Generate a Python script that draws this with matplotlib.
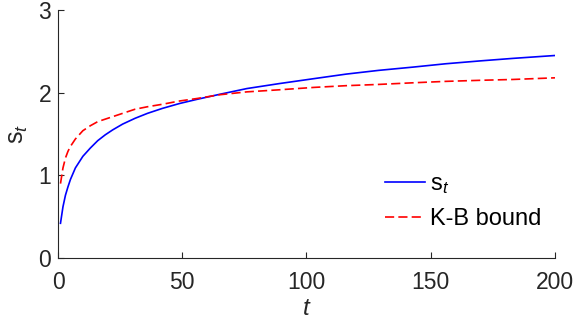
import matplotlib
matplotlib.use("Agg")
import matplotlib.pyplot as plt

# values
t = [1, 2, 3, 4, 5, 7, 10, 13, 16, 19, 22, 26, 31, 36, 42, 49, 56, 65, 76, 89,
     103, 116, 129, 143, 156, 170, 183, 200]
s_t = [0.42, 0.62, 0.76, 0.86, 0.95, 1.09, 1.23, 1.33, 1.42, 1.49, 1.55, 1.62, 1.69,
       1.75, 1.81, 1.87, 1.92, 1.98, 2.05, 2.11, 2.17, 2.225, 2.27, 2.31, 2.35, 2.385,
       2.415, 2.45]
kb_bound = [0.90, 1.09, 1.21, 1.29, 1.35, 1.44, 1.54, 1.60, 1.65, 1.68, 1.71, 1.75, 1.80,
            1.83, 1.86, 1.90, 1.93, 1.975, 2.01, 2.035, 2.064, 2.085, 2.10, 2.12, 2.137,
            2.15, 2.16, 2.18]

plt.rcParams["font.family"] = ["Liberation Sans", "DejaVu Sans"]
plt.rcParams["mathtext.fontset"] = "custom"
plt.rcParams["mathtext.rm"] = "Liberation Sans"
plt.rcParams["mathtext.it"] = "Liberation Sans:italic"

DARK = "#262626"

fig = plt.figure(figsize=(5.76, 3.24), dpi=100)
ax = fig.add_axes([0.1007, 0.2037, 0.8628, 0.7653])

ax.plot(t, s_t, color="#0000ff", linewidth=1.2, label=r"$\mathrm{s}_{t}$")
ax.plot(t, kb_bound, color="#ff0000", linewidth=1.2, linestyle=(0, (5.5, 2.5)),
        label="K-B bound")

ax.set_xlim(0, 200)
ax.set_ylim(0, 3)
ax.set_xticks([0, 50, 100, 150, 200])
ax.set_yticks([0, 1, 2, 3])

for side in ("top", "right"):
    ax.spines[side].set_visible(False)
for side in ("left", "bottom"):
    ax.spines[side].set_color(DARK)
    ax.spines[side].set_linewidth(0.8)

ax.tick_params(direction="in", length=4, width=0.8, colors=DARK, labelsize=16.5, pad=5)
ax.tick_params(axis="x", pad=9)

ax.set_xlabel(r"$t$", fontsize=17.5, color=DARK, labelpad=3)
ax.set_ylabel(r"$\mathrm{s}_{t}$", fontsize=18, color=DARK, labelpad=6)

ax.legend(loc="upper left", bbox_to_anchor=(0.658, 0.342), frameon=False, fontsize=17,
          handlelength=1.7, handletextpad=0.2, labelspacing=0.52,
          borderpad=0, borderaxespad=0)

fig.savefig("out.png", dpi=100, facecolor="white")
